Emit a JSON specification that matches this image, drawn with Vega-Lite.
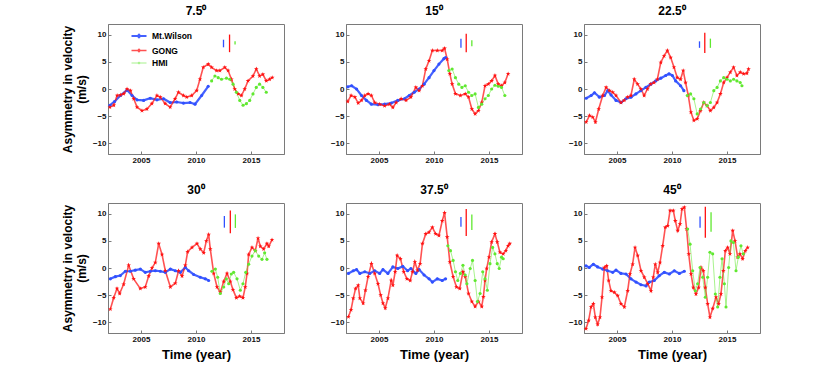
{
"$schema":"https://vega.github.io/schema/vega-lite/v6.json",
"padding":{"left":60,"top":4,"right":5,"bottom":5},
"background":"white",
"config":{
 "font":"Liberation Sans",
 "view":{"stroke":"#7a7a7a","strokeWidth":1},
 "axis":{"grid":false,"labelFont":"Liberation Sans","labelFontWeight":"bold","labelFontSize":8,"labelColor":"#111","tickColor":"#7a7a7a","domainColor":"#7a7a7a","tickSize":-3,"labelPadding":5,"titleFont":"Liberation Sans","titleFontWeight":"bold","titleColor":"#000"},
 "axisY":{"titleFontSize":12,"titleLineHeight":14,"titlePadding":4},
 "axisX":{"titleFontSize":13,"titlePadding":5},
 "title":{"font":"Liberation Sans","fontSize":12,"fontWeight":"bold","color":"#000","offset":6}
},
"datasets":{
"d":[
{"p":1,"s":"Mt.Wilson","t":2002.17,"v":-3.0},{"p":1,"s":"Mt.Wilson","t":2002.6,"v":-2.3},{"p":1,"s":"Mt.Wilson","t":2003.13,"v":-1.2},{"p":1,"s":"Mt.Wilson","t":2003.73,"v":-0.2},{"p":1,"s":"Mt.Wilson","t":2004.19,"v":-1.2},{"p":1,"s":"Mt.Wilson","t":2004.64,"v":-2.0},{"p":1,"s":"Mt.Wilson","t":2005.24,"v":-2.1},{"p":1,"s":"Mt.Wilson","t":2005.84,"v":-1.7},{"p":1,"s":"Mt.Wilson","t":2006.45,"v":-2.0},{"p":1,"s":"Mt.Wilson","t":2007.05,"v":-1.8},{"p":1,"s":"Mt.Wilson","t":2007.65,"v":-2.5},{"p":1,"s":"Mt.Wilson","t":2008.25,"v":-2.4},{"p":1,"s":"Mt.Wilson","t":2008.86,"v":-2.6},{"p":1,"s":"Mt.Wilson","t":2009.46,"v":-2.5},{"p":1,"s":"Mt.Wilson","t":2009.91,"v":-2.8},{"p":1,"s":"Mt.Wilson","t":2010.51,"v":-1.2},{"p":1,"s":"Mt.Wilson","t":2011.11,"v":0.5},
{"p":1,"s":"GONG","t":2002.17,"v":-3.35},{"p":1,"s":"GONG","t":2002.53,"v":-3.0},{"p":1,"s":"GONG","t":2002.83,"v":-1.2},{"p":1,"s":"GONG","t":2003.13,"v":-1.1},{"p":1,"s":"GONG","t":2003.43,"v":-0.9},{"p":1,"s":"GONG","t":2003.73,"v":0},{"p":1,"s":"GONG","t":2004.04,"v":-0.3},{"p":1,"s":"GONG","t":2004.34,"v":-1.8},{"p":1,"s":"GONG","t":2004.64,"v":-3.35},{"p":1,"s":"GONG","t":2005.09,"v":-4.0},{"p":1,"s":"GONG","t":2005.54,"v":-3.7},{"p":1,"s":"GONG","t":2005.99,"v":-2.7},{"p":1,"s":"GONG","t":2006.45,"v":-1.2},{"p":1,"s":"GONG","t":2006.75,"v":-1.5},{"p":1,"s":"GONG","t":2007.2,"v":-2.7},{"p":1,"s":"GONG","t":2007.65,"v":-3.35},{"p":1,"s":"GONG","t":2008.1,"v":-1.8},{"p":1,"s":"GONG","t":2008.4,"v":-0.6},{"p":1,"s":"GONG","t":2008.86,"v":-1.2},{"p":1,"s":"GONG","t":2009.16,"v":-1.5},{"p":1,"s":"GONG","t":2009.61,"v":-1.2},{"p":1,"s":"GONG","t":2010.06,"v":-0.3},{"p":1,"s":"GONG","t":2010.36,"v":1.8},{"p":1,"s":"GONG","t":2010.66,"v":4.0},{"p":1,"s":"GONG","t":2011.11,"v":4.6},{"p":1,"s":"GONG","t":2011.42,"v":4.0},{"p":1,"s":"GONG","t":2011.87,"v":3.4},{"p":1,"s":"GONG","t":2012.17,"v":3.4},{"p":1,"s":"GONG","t":2012.62,"v":4.0},{"p":1,"s":"GONG","t":2012.92,"v":3.4},{"p":1,"s":"GONG","t":2013.22,"v":1.8},{"p":1,"s":"GONG","t":2013.52,"v":0},{"p":1,"s":"GONG","t":2013.83,"v":-0.9},{"p":1,"s":"GONG","t":2014.13,"v":-1.2},{"p":1,"s":"GONG","t":2014.43,"v":0},{"p":1,"s":"GONG","t":2014.73,"v":1.5},{"p":1,"s":"GONG","t":2015.18,"v":2.4},{"p":1,"s":"GONG","t":2015.48,"v":3.7},{"p":1,"s":"GONG","t":2015.78,"v":2.4},{"p":1,"s":"GONG","t":2016.08,"v":2.7},{"p":1,"s":"GONG","t":2016.39,"v":1.5},{"p":1,"s":"GONG","t":2016.69,"v":1.8},{"p":1,"s":"GONG","t":2016.93,"v":2.1},
{"p":1,"s":"HMI","t":2011.42,"v":1.5},{"p":1,"s":"HMI","t":2011.72,"v":2.4},{"p":1,"s":"HMI","t":2012.02,"v":2.1},{"p":1,"s":"HMI","t":2012.32,"v":1.8},{"p":1,"s":"HMI","t":2012.77,"v":2.0},{"p":1,"s":"HMI","t":2013.07,"v":1.8},{"p":1,"s":"HMI","t":2013.37,"v":0.9},{"p":1,"s":"HMI","t":2013.67,"v":-0.6},{"p":1,"s":"HMI","t":2013.98,"v":-2.1},{"p":1,"s":"HMI","t":2014.28,"v":-3.0},{"p":1,"s":"HMI","t":2014.58,"v":-2.7},{"p":1,"s":"HMI","t":2014.88,"v":-2.1},{"p":1,"s":"HMI","t":2015.18,"v":-0.9},{"p":1,"s":"HMI","t":2015.48,"v":0.3},{"p":1,"s":"HMI","t":2015.78,"v":0.9},{"p":1,"s":"HMI","t":2016.08,"v":0.3},{"p":1,"s":"HMI","t":2016.39,"v":-0.6},

{"p":2,"s":"Mt.Wilson","t":2002.16,"v":0.4},{"p":2,"s":"Mt.Wilson","t":2002.51,"v":0.6},{"p":2,"s":"Mt.Wilson","t":2002.96,"v":0},{"p":2,"s":"Mt.Wilson","t":2003.41,"v":-1.2},{"p":2,"s":"Mt.Wilson","t":2003.86,"v":-2.1},{"p":2,"s":"Mt.Wilson","t":2004.31,"v":-2.8},{"p":2,"s":"Mt.Wilson","t":2004.91,"v":-2.9},{"p":2,"s":"Mt.Wilson","t":2005.51,"v":-2.8},{"p":2,"s":"Mt.Wilson","t":2006.11,"v":-2.6},{"p":2,"s":"Mt.Wilson","t":2006.71,"v":-2.1},{"p":2,"s":"Mt.Wilson","t":2007.31,"v":-1.8},{"p":2,"s":"Mt.Wilson","t":2007.75,"v":-1.2},{"p":2,"s":"Mt.Wilson","t":2008.2,"v":-0.6},{"p":2,"s":"Mt.Wilson","t":2008.65,"v":0},{"p":2,"s":"Mt.Wilson","t":2009.1,"v":0.9},{"p":2,"s":"Mt.Wilson","t":2009.55,"v":2.1},{"p":2,"s":"Mt.Wilson","t":2010.0,"v":3.4},{"p":2,"s":"Mt.Wilson","t":2010.45,"v":4.6},{"p":2,"s":"Mt.Wilson","t":2010.9,"v":5.6},{"p":2,"s":"Mt.Wilson","t":2011.05,"v":5.8},
{"p":2,"s":"GONG","t":2002.16,"v":-2.3},{"p":2,"s":"GONG","t":2002.46,"v":-1.2},{"p":2,"s":"GONG","t":2002.81,"v":-1.5},{"p":2,"s":"GONG","t":2003.11,"v":-2.6},{"p":2,"s":"GONG","t":2003.41,"v":-2.1},{"p":2,"s":"GONG","t":2003.71,"v":-1.2},{"p":2,"s":"GONG","t":2004.01,"v":-0.9},{"p":2,"s":"GONG","t":2004.31,"v":-1.2},{"p":2,"s":"GONG","t":2004.61,"v":-2.5},{"p":2,"s":"GONG","t":2005.06,"v":-2.8},{"p":2,"s":"GONG","t":2005.51,"v":-3.1},{"p":2,"s":"GONG","t":2005.96,"v":-2.8},{"p":2,"s":"GONG","t":2006.26,"v":-3.4},{"p":2,"s":"GONG","t":2006.56,"v":-2.5},{"p":2,"s":"GONG","t":2007.01,"v":-1.8},{"p":2,"s":"GONG","t":2007.46,"v":-2.1},{"p":2,"s":"GONG","t":2007.9,"v":-1.5},{"p":2,"s":"GONG","t":2008.35,"v":0.3},{"p":2,"s":"GONG","t":2008.65,"v":-0.3},{"p":2,"s":"GONG","t":2008.95,"v":0.6},{"p":2,"s":"GONG","t":2009.25,"v":3.7},{"p":2,"s":"GONG","t":2009.55,"v":5.2},{"p":2,"s":"GONG","t":2009.85,"v":7.1},{"p":2,"s":"GONG","t":2010.3,"v":7.1},{"p":2,"s":"GONG","t":2010.75,"v":7.1},{"p":2,"s":"GONG","t":2010.96,"v":7.5},{"p":2,"s":"GONG","t":2011.2,"v":5.5},{"p":2,"s":"GONG","t":2011.44,"v":2.8},{"p":2,"s":"GONG","t":2011.65,"v":0.9},{"p":2,"s":"GONG","t":2011.95,"v":-0.9},{"p":2,"s":"GONG","t":2012.4,"v":-1.2},{"p":2,"s":"GONG","t":2012.84,"v":-0.9},{"p":2,"s":"GONG","t":2013.14,"v":-1.5},{"p":2,"s":"GONG","t":2013.44,"v":-3.7},{"p":2,"s":"GONG","t":2013.74,"v":-4.6},{"p":2,"s":"GONG","t":2014.04,"v":-4.0},{"p":2,"s":"GONG","t":2014.34,"v":-2.5},{"p":2,"s":"GONG","t":2014.64,"v":0.6},{"p":2,"s":"GONG","t":2014.94,"v":0.9},{"p":2,"s":"GONG","t":2015.24,"v":1.5},{"p":2,"s":"GONG","t":2015.54,"v":2.5},{"p":2,"s":"GONG","t":2015.84,"v":0.9},{"p":2,"s":"GONG","t":2016.14,"v":0.6},{"p":2,"s":"GONG","t":2016.44,"v":1.2},{"p":2,"s":"GONG","t":2016.74,"v":2.8},
{"p":2,"s":"HMI","t":2011.35,"v":3.4},{"p":2,"s":"HMI","t":2011.65,"v":3.7},{"p":2,"s":"HMI","t":2011.95,"v":2.1},{"p":2,"s":"HMI","t":2012.25,"v":0.9},{"p":2,"s":"HMI","t":2012.54,"v":0.3},{"p":2,"s":"HMI","t":2012.84,"v":0.6},{"p":2,"s":"HMI","t":2013.14,"v":-0.6},{"p":2,"s":"HMI","t":2013.44,"v":-1.2},{"p":2,"s":"HMI","t":2013.74,"v":-0.9},{"p":2,"s":"HMI","t":2014.04,"v":-3.4},{"p":2,"s":"HMI","t":2014.34,"v":-2.8},{"p":2,"s":"HMI","t":2014.64,"v":-1.8},{"p":2,"s":"HMI","t":2014.94,"v":-1.2},{"p":2,"s":"HMI","t":2015.24,"v":0},{"p":2,"s":"HMI","t":2015.54,"v":0.7},{"p":2,"s":"HMI","t":2015.84,"v":0.5},{"p":2,"s":"HMI","t":2016.14,"v":0.3},{"p":2,"s":"HMI","t":2016.44,"v":-1.2},

{"p":3,"s":"Mt.Wilson","t":2002.2,"v":-1.7},{"p":3,"s":"Mt.Wilson","t":2002.65,"v":-1.2},{"p":3,"s":"Mt.Wilson","t":2002.95,"v":-0.7},{"p":3,"s":"Mt.Wilson","t":2003.4,"v":-1.5},{"p":3,"s":"Mt.Wilson","t":2003.86,"v":-1.2},{"p":3,"s":"Mt.Wilson","t":2004.16,"v":-0.3},{"p":3,"s":"Mt.Wilson","t":2004.46,"v":-1.1},{"p":3,"s":"Mt.Wilson","t":2004.91,"v":-2.1},{"p":3,"s":"Mt.Wilson","t":2005.36,"v":-2.5},{"p":3,"s":"Mt.Wilson","t":2005.81,"v":-1.8},{"p":3,"s":"Mt.Wilson","t":2006.27,"v":-1.5},{"p":3,"s":"Mt.Wilson","t":2006.72,"v":-0.9},{"p":3,"s":"Mt.Wilson","t":2007.17,"v":-0.3},{"p":3,"s":"Mt.Wilson","t":2007.62,"v":0.3},{"p":3,"s":"Mt.Wilson","t":2008.07,"v":0.9},{"p":3,"s":"Mt.Wilson","t":2008.52,"v":1.5},{"p":3,"s":"Mt.Wilson","t":2008.98,"v":2.0},{"p":3,"s":"Mt.Wilson","t":2009.43,"v":2.5},{"p":3,"s":"Mt.Wilson","t":2009.73,"v":2.8},{"p":3,"s":"Mt.Wilson","t":2010.03,"v":2.5},{"p":3,"s":"Mt.Wilson","t":2010.33,"v":1.5},{"p":3,"s":"Mt.Wilson","t":2010.78,"v":0.6},{"p":3,"s":"Mt.Wilson","t":2011.08,"v":-0.3},
{"p":3,"s":"GONG","t":2002.2,"v":-6.1},{"p":3,"s":"GONG","t":2002.5,"v":-4.9},{"p":3,"s":"GONG","t":2002.8,"v":-5.2},{"p":3,"s":"GONG","t":2003.04,"v":-6.1},{"p":3,"s":"GONG","t":2003.34,"v":-3.7},{"p":3,"s":"GONG","t":2003.7,"v":-1.2},{"p":3,"s":"GONG","t":2004.01,"v":0.3},{"p":3,"s":"GONG","t":2004.31,"v":-0.3},{"p":3,"s":"GONG","t":2004.61,"v":-0.6},{"p":3,"s":"GONG","t":2004.91,"v":-1.2},{"p":3,"s":"GONG","t":2005.36,"v":-2.5},{"p":3,"s":"GONG","t":2005.66,"v":-2.1},{"p":3,"s":"GONG","t":2005.96,"v":-1.5},{"p":3,"s":"GONG","t":2006.27,"v":-1.2},{"p":3,"s":"GONG","t":2006.57,"v":1.8},{"p":3,"s":"GONG","t":2006.87,"v":0.9},{"p":3,"s":"GONG","t":2007.17,"v":0},{"p":3,"s":"GONG","t":2007.47,"v":-1.2},{"p":3,"s":"GONG","t":2007.77,"v":0},{"p":3,"s":"GONG","t":2008.07,"v":0.9},{"p":3,"s":"GONG","t":2008.37,"v":1.2},{"p":3,"s":"GONG","t":2008.67,"v":1.8},{"p":3,"s":"GONG","t":2008.98,"v":4.9},{"p":3,"s":"GONG","t":2009.28,"v":6.1},{"p":3,"s":"GONG","t":2009.58,"v":7.1},{"p":3,"s":"GONG","t":2009.88,"v":5.8},{"p":3,"s":"GONG","t":2010.18,"v":4.0},{"p":3,"s":"GONG","t":2010.48,"v":2.1},{"p":3,"s":"GONG","t":2010.78,"v":1.8},{"p":3,"s":"GONG","t":2011.02,"v":3.4},{"p":3,"s":"GONG","t":2011.23,"v":1.2},{"p":3,"s":"GONG","t":2011.48,"v":-1.2},{"p":3,"s":"GONG","t":2011.72,"v":-4.3},{"p":3,"s":"GONG","t":2011.99,"v":-5.8},{"p":3,"s":"GONG","t":2012.29,"v":-5.5},{"p":3,"s":"GONG","t":2012.59,"v":-4.0},{"p":3,"s":"GONG","t":2012.89,"v":-2.5},{"p":3,"s":"GONG","t":2013.19,"v":-3.1},{"p":3,"s":"GONG","t":2013.49,"v":-4.0},{"p":3,"s":"GONG","t":2013.8,"v":-3.4},{"p":3,"s":"GONG","t":2014.1,"v":-2.5},{"p":3,"s":"GONG","t":2014.4,"v":-0.9},{"p":3,"s":"GONG","t":2014.7,"v":1.2},{"p":3,"s":"GONG","t":2015.0,"v":2.1},{"p":3,"s":"GONG","t":2015.3,"v":3.1},{"p":3,"s":"GONG","t":2015.6,"v":4.0},{"p":3,"s":"GONG","t":2015.9,"v":2.5},{"p":3,"s":"GONG","t":2016.2,"v":3.1},{"p":3,"s":"GONG","t":2016.51,"v":2.8},{"p":3,"s":"GONG","t":2016.81,"v":2.9},{"p":3,"s":"GONG","t":2016.96,"v":3.7},
{"p":3,"s":"HMI","t":2011.39,"v":-1.2},{"p":3,"s":"HMI","t":2011.69,"v":-0.9},{"p":3,"s":"HMI","t":2011.99,"v":-1.8},{"p":3,"s":"HMI","t":2012.29,"v":-4.6},{"p":3,"s":"HMI","t":2012.59,"v":-3.7},{"p":3,"s":"HMI","t":2012.89,"v":-2.5},{"p":3,"s":"HMI","t":2013.19,"v":-3.1},{"p":3,"s":"HMI","t":2013.49,"v":-2.5},{"p":3,"s":"HMI","t":2013.8,"v":-0.3},{"p":3,"s":"HMI","t":2014.1,"v":0.3},{"p":3,"s":"HMI","t":2014.4,"v":1.5},{"p":3,"s":"HMI","t":2014.7,"v":2.1},{"p":3,"s":"HMI","t":2015.0,"v":1.8},{"p":3,"s":"HMI","t":2015.3,"v":1.5},{"p":3,"s":"HMI","t":2015.6,"v":1.8},{"p":3,"s":"HMI","t":2015.9,"v":1.5},{"p":3,"s":"HMI","t":2016.2,"v":1.2},{"p":3,"s":"HMI","t":2016.36,"v":0.6},

{"p":4,"s":"Mt.Wilson","t":2002.21,"v":-2.0},{"p":4,"s":"Mt.Wilson","t":2002.67,"v":-1.6},{"p":4,"s":"Mt.Wilson","t":2003.12,"v":-1.4},{"p":4,"s":"Mt.Wilson","t":2003.58,"v":-0.6},{"p":4,"s":"Mt.Wilson","t":2004.03,"v":-0.6},{"p":4,"s":"Mt.Wilson","t":2004.48,"v":-0.4},{"p":4,"s":"Mt.Wilson","t":2004.94,"v":-0.2},{"p":4,"s":"Mt.Wilson","t":2005.39,"v":-0.8},{"p":4,"s":"Mt.Wilson","t":2005.85,"v":-0.6},{"p":4,"s":"Mt.Wilson","t":2006.3,"v":-0.5},{"p":4,"s":"Mt.Wilson","t":2006.76,"v":-0.6},{"p":4,"s":"Mt.Wilson","t":2007.21,"v":-0.8},{"p":4,"s":"Mt.Wilson","t":2007.67,"v":-0.2},{"p":4,"s":"Mt.Wilson","t":2008.12,"v":-0.5},{"p":4,"s":"Mt.Wilson","t":2008.58,"v":-0.8},{"p":4,"s":"Mt.Wilson","t":2009.03,"v":0.1},{"p":4,"s":"Mt.Wilson","t":2009.33,"v":-0.5},{"p":4,"s":"Mt.Wilson","t":2009.79,"v":-1.2},{"p":4,"s":"Mt.Wilson","t":2010.39,"v":-1.7},{"p":4,"s":"Mt.Wilson","t":2010.85,"v":-2.0},{"p":4,"s":"Mt.Wilson","t":2011.15,"v":-2.3},
{"p":4,"s":"GONG","t":2002.21,"v":-7.6},{"p":4,"s":"GONG","t":2002.52,"v":-5.5},{"p":4,"s":"GONG","t":2002.82,"v":-3.8},{"p":4,"s":"GONG","t":2003.06,"v":-4.7},{"p":4,"s":"GONG","t":2003.42,"v":-3.0},{"p":4,"s":"GONG","t":2003.88,"v":0.5},{"p":4,"s":"GONG","t":2004.33,"v":-2.0},{"p":4,"s":"GONG","t":2004.94,"v":-3.8},{"p":4,"s":"GONG","t":2005.39,"v":-3.5},{"p":4,"s":"GONG","t":2005.7,"v":-1.5},{"p":4,"s":"GONG","t":2006.0,"v":0},{"p":4,"s":"GONG","t":2006.3,"v":1.0},{"p":4,"s":"GONG","t":2006.61,"v":4.5},{"p":4,"s":"GONG","t":2006.91,"v":2.5},{"p":4,"s":"GONG","t":2007.21,"v":-0.5},{"p":4,"s":"GONG","t":2007.67,"v":-3.5},{"p":4,"s":"GONG","t":2008.12,"v":-2.8},{"p":4,"s":"GONG","t":2008.42,"v":-0.5},{"p":4,"s":"GONG","t":2008.73,"v":-1.5},{"p":4,"s":"GONG","t":2009.03,"v":0.5},{"p":4,"s":"GONG","t":2009.24,"v":3.0},{"p":4,"s":"GONG","t":2009.64,"v":3.8},{"p":4,"s":"GONG","t":2010.09,"v":4.5},{"p":4,"s":"GONG","t":2010.39,"v":3.5},{"p":4,"s":"GONG","t":2010.7,"v":2.8},{"p":4,"s":"GONG","t":2010.94,"v":5.0},{"p":4,"s":"GONG","t":2011.15,"v":6.2},{"p":4,"s":"GONG","t":2011.3,"v":3.5},{"p":4,"s":"GONG","t":2011.61,"v":-1.0},{"p":4,"s":"GONG","t":2011.91,"v":-3.5},{"p":4,"s":"GONG","t":2012.21,"v":-4.5},{"p":4,"s":"GONG","t":2012.52,"v":-2.5},{"p":4,"s":"GONG","t":2012.82,"v":-1.0},{"p":4,"s":"GONG","t":2013.12,"v":-2.5},{"p":4,"s":"GONG","t":2013.36,"v":-4.0},{"p":4,"s":"GONG","t":2013.67,"v":-5.5},{"p":4,"s":"GONG","t":2013.97,"v":-5.2},{"p":4,"s":"GONG","t":2014.27,"v":-5.5},{"p":4,"s":"GONG","t":2014.48,"v":-3.5},{"p":4,"s":"GONG","t":2014.64,"v":-1.0},{"p":4,"s":"GONG","t":2014.79,"v":2.5},{"p":4,"s":"GONG","t":2015.09,"v":3.8},{"p":4,"s":"GONG","t":2015.39,"v":3.2},{"p":4,"s":"GONG","t":2015.64,"v":5.5},{"p":4,"s":"GONG","t":2015.85,"v":4.0},{"p":4,"s":"GONG","t":2016.15,"v":3.5},{"p":4,"s":"GONG","t":2016.45,"v":4.5},{"p":4,"s":"GONG","t":2016.61,"v":4.0},{"p":4,"s":"GONG","t":2016.91,"v":5.2},
{"p":4,"s":"HMI","t":2011.45,"v":-0.6},{"p":4,"s":"HMI","t":2011.76,"v":-0.2},{"p":4,"s":"HMI","t":2011.97,"v":-1.7},{"p":4,"s":"HMI","t":2012.21,"v":-4.7},{"p":4,"s":"HMI","t":2012.52,"v":-3.5},{"p":4,"s":"HMI","t":2012.76,"v":-2.0},{"p":4,"s":"HMI","t":2012.97,"v":-2.9},{"p":4,"s":"HMI","t":2013.21,"v":-1.1},{"p":4,"s":"HMI","t":2013.42,"v":-0.8},{"p":4,"s":"HMI","t":2013.73,"v":-2.0},{"p":4,"s":"HMI","t":2014.03,"v":-4.1},{"p":4,"s":"HMI","t":2014.27,"v":-2.9},{"p":4,"s":"HMI","t":2014.52,"v":-0.8},{"p":4,"s":"HMI","t":2014.79,"v":0.7},{"p":4,"s":"HMI","t":2015.09,"v":2.2},{"p":4,"s":"HMI","t":2015.39,"v":3.2},{"p":4,"s":"HMI","t":2015.7,"v":2.2},{"p":4,"s":"HMI","t":2016.0,"v":1.6},{"p":4,"s":"HMI","t":2016.24,"v":2.8},{"p":4,"s":"HMI","t":2016.45,"v":1.6},

{"p":5,"s":"Mt.Wilson","t":2002.22,"v":-1.0},{"p":5,"s":"Mt.Wilson","t":2002.66,"v":-0.5},{"p":5,"s":"Mt.Wilson","t":2002.96,"v":-0.3},{"p":5,"s":"Mt.Wilson","t":2003.26,"v":-1.0},{"p":5,"s":"Mt.Wilson","t":2003.71,"v":-0.7},{"p":5,"s":"Mt.Wilson","t":2004.16,"v":-1.0},{"p":5,"s":"Mt.Wilson","t":2004.61,"v":-0.5},{"p":5,"s":"Mt.Wilson","t":2005.06,"v":-1.0},{"p":5,"s":"Mt.Wilson","t":2005.36,"v":-0.3},{"p":5,"s":"Mt.Wilson","t":2005.81,"v":-1.0},{"p":5,"s":"Mt.Wilson","t":2006.26,"v":0.2},{"p":5,"s":"Mt.Wilson","t":2006.71,"v":-0.1},{"p":5,"s":"Mt.Wilson","t":2007.16,"v":0.3},{"p":5,"s":"Mt.Wilson","t":2007.6,"v":-0.5},{"p":5,"s":"Mt.Wilson","t":2007.9,"v":-0.1},{"p":5,"s":"Mt.Wilson","t":2008.35,"v":-1.0},{"p":5,"s":"Mt.Wilson","t":2008.65,"v":-0.3},{"p":5,"s":"Mt.Wilson","t":2009.1,"v":-1.3},{"p":5,"s":"Mt.Wilson","t":2009.55,"v":-2.0},{"p":5,"s":"Mt.Wilson","t":2009.85,"v":-2.6},{"p":5,"s":"Mt.Wilson","t":2010.3,"v":-2.0},{"p":5,"s":"Mt.Wilson","t":2010.75,"v":-2.3},{"p":5,"s":"Mt.Wilson","t":2011.05,"v":-2.0},
{"p":5,"s":"GONG","t":2002.22,"v":-9.0},{"p":5,"s":"GONG","t":2002.46,"v":-7.7},{"p":5,"s":"GONG","t":2002.66,"v":-5.6},{"p":5,"s":"GONG","t":2002.87,"v":-3.8},{"p":5,"s":"GONG","t":2003.11,"v":-3.2},{"p":5,"s":"GONG","t":2003.26,"v":-5.6},{"p":5,"s":"GONG","t":2003.56,"v":-6.5},{"p":5,"s":"GONG","t":2003.77,"v":-4.1},{"p":5,"s":"GONG","t":2004.01,"v":-1.6},{"p":5,"s":"GONG","t":2004.31,"v":0.8},{"p":5,"s":"GONG","t":2004.61,"v":-1.0},{"p":5,"s":"GONG","t":2004.91,"v":-2.9},{"p":5,"s":"GONG","t":2005.15,"v":-5.0},{"p":5,"s":"GONG","t":2005.36,"v":-6.5},{"p":5,"s":"GONG","t":2005.57,"v":-7.4},{"p":5,"s":"GONG","t":2005.81,"v":-5.6},{"p":5,"s":"GONG","t":2006.11,"v":-2.3},{"p":5,"s":"GONG","t":2006.26,"v":-3.2},{"p":5,"s":"GONG","t":2006.47,"v":-0.7},{"p":5,"s":"GONG","t":2006.65,"v":2.3},{"p":5,"s":"GONG","t":2006.95,"v":1.7},{"p":5,"s":"GONG","t":2007.25,"v":-0.7},{"p":5,"s":"GONG","t":2007.54,"v":-2.0},{"p":5,"s":"GONG","t":2007.84,"v":-2.3},{"p":5,"s":"GONG","t":2008.05,"v":-0.7},{"p":5,"s":"GONG","t":2008.26,"v":1.1},{"p":5,"s":"GONG","t":2008.5,"v":-0.4},{"p":5,"s":"GONG","t":2008.74,"v":0.8},{"p":5,"s":"GONG","t":2008.95,"v":4.5},{"p":5,"s":"GONG","t":2009.25,"v":6.3},{"p":5,"s":"GONG","t":2009.55,"v":6.6},{"p":5,"s":"GONG","t":2009.85,"v":7.5},{"p":5,"s":"GONG","t":2010.15,"v":6.3},{"p":5,"s":"GONG","t":2010.45,"v":6.0},{"p":5,"s":"GONG","t":2010.75,"v":8.7},{"p":5,"s":"GONG","t":2010.96,"v":10.2},{"p":5,"s":"GONG","t":2011.2,"v":5.7},{"p":5,"s":"GONG","t":2011.44,"v":1.1},{"p":5,"s":"GONG","t":2011.74,"v":-1.6},{"p":5,"s":"GONG","t":2012.04,"v":-3.5},{"p":5,"s":"GONG","t":2012.34,"v":-3.8},{"p":5,"s":"GONG","t":2012.63,"v":-0.7},{"p":5,"s":"GONG","t":2012.84,"v":-1.6},{"p":5,"s":"GONG","t":2013.14,"v":-4.7},{"p":5,"s":"GONG","t":2013.44,"v":-6.2},{"p":5,"s":"GONG","t":2013.74,"v":-7.1},{"p":5,"s":"GONG","t":2014.04,"v":-6.2},{"p":5,"s":"GONG","t":2014.34,"v":-7.1},{"p":5,"s":"GONG","t":2014.49,"v":-5.3},{"p":5,"s":"GONG","t":2014.64,"v":-2.3},{"p":5,"s":"GONG","t":2014.79,"v":-0.1},{"p":5,"s":"GONG","t":2015.0,"v":2.0},{"p":5,"s":"GONG","t":2015.24,"v":4.8},{"p":5,"s":"GONG","t":2015.54,"v":6.3},{"p":5,"s":"GONG","t":2015.75,"v":4.8},{"p":5,"s":"GONG","t":2015.99,"v":2.9},{"p":5,"s":"GONG","t":2016.29,"v":2.6},{"p":5,"s":"GONG","t":2016.53,"v":3.2},{"p":5,"s":"GONG","t":2016.74,"v":4.1},{"p":5,"s":"GONG","t":2016.89,"v":4.5},
{"p":5,"s":"HMI","t":2011.26,"v":4.1},{"p":5,"s":"HMI","t":2011.5,"v":3.2},{"p":5,"s":"HMI","t":2011.74,"v":1.4},{"p":5,"s":"HMI","t":2011.95,"v":-0.7},{"p":5,"s":"HMI","t":2012.16,"v":-2.3},{"p":5,"s":"HMI","t":2012.4,"v":-1.0},{"p":5,"s":"HMI","t":2012.63,"v":0.5},{"p":5,"s":"HMI","t":2012.84,"v":-1.3},{"p":5,"s":"HMI","t":2012.99,"v":-2.9},{"p":5,"s":"HMI","t":2013.29,"v":-0.1},{"p":5,"s":"HMI","t":2013.5,"v":1.4},{"p":5,"s":"HMI","t":2013.74,"v":-2.3},{"p":5,"s":"HMI","t":2013.95,"v":-6.2},{"p":5,"s":"HMI","t":2014.19,"v":-4.7},{"p":5,"s":"HMI","t":2014.43,"v":-0.7},{"p":5,"s":"HMI","t":2014.64,"v":-2.0},{"p":5,"s":"HMI","t":2014.85,"v":-4.1},{"p":5,"s":"HMI","t":2015.09,"v":0.8},{"p":5,"s":"HMI","t":2015.33,"v":3.8},{"p":5,"s":"HMI","t":2015.54,"v":2.6},{"p":5,"s":"HMI","t":2015.75,"v":0.8},{"p":5,"s":"HMI","t":2015.93,"v":-0.1},{"p":5,"s":"HMI","t":2016.14,"v":2.0},{"p":5,"s":"HMI","t":2016.29,"v":1.7},

{"p":6,"s":"Mt.Wilson","t":2002.18,"v":0.4},{"p":6,"s":"Mt.Wilson","t":2002.48,"v":0.1},{"p":6,"s":"Mt.Wilson","t":2002.85,"v":0.7},{"p":6,"s":"Mt.Wilson","t":2003.24,"v":0.2},{"p":6,"s":"Mt.Wilson","t":2003.7,"v":-0.2},{"p":6,"s":"Mt.Wilson","t":2004.15,"v":-0.5},{"p":6,"s":"Mt.Wilson","t":2004.61,"v":-0.8},{"p":6,"s":"Mt.Wilson","t":2004.91,"v":-0.4},{"p":6,"s":"Mt.Wilson","t":2005.36,"v":-1.0},{"p":6,"s":"Mt.Wilson","t":2005.82,"v":-1.1},{"p":6,"s":"Mt.Wilson","t":2006.27,"v":-2.0},{"p":6,"s":"Mt.Wilson","t":2006.73,"v":-2.6},{"p":6,"s":"Mt.Wilson","t":2007.18,"v":-3.1},{"p":6,"s":"Mt.Wilson","t":2007.64,"v":-3.3},{"p":6,"s":"Mt.Wilson","t":2007.94,"v":-2.6},{"p":6,"s":"Mt.Wilson","t":2008.39,"v":-2.3},{"p":6,"s":"Mt.Wilson","t":2008.85,"v":-1.4},{"p":6,"s":"Mt.Wilson","t":2009.3,"v":-0.8},{"p":6,"s":"Mt.Wilson","t":2009.76,"v":-1.1},{"p":6,"s":"Mt.Wilson","t":2010.21,"v":-0.5},{"p":6,"s":"Mt.Wilson","t":2010.67,"v":-1.0},{"p":6,"s":"Mt.Wilson","t":2011.12,"v":-0.6},
{"p":6,"s":"GONG","t":2002.18,"v":-11.2},{"p":6,"s":"GONG","t":2002.42,"v":-9.7},{"p":6,"s":"GONG","t":2002.64,"v":-7.2},{"p":6,"s":"GONG","t":2002.85,"v":-6.6},{"p":6,"s":"GONG","t":2003.03,"v":-9.1},{"p":6,"s":"GONG","t":2003.24,"v":-10.4},{"p":6,"s":"GONG","t":2003.45,"v":-9.1},{"p":6,"s":"GONG","t":2003.64,"v":-5.4},{"p":6,"s":"GONG","t":2003.85,"v":0.1},{"p":6,"s":"GONG","t":2004.06,"v":0.4},{"p":6,"s":"GONG","t":2004.24,"v":-2.3},{"p":6,"s":"GONG","t":2004.45,"v":-4.2},{"p":6,"s":"GONG","t":2004.76,"v":-4.5},{"p":6,"s":"GONG","t":2005.06,"v":-5.1},{"p":6,"s":"GONG","t":2005.36,"v":-6.6},{"p":6,"s":"GONG","t":2005.67,"v":-7.2},{"p":6,"s":"GONG","t":2005.97,"v":-4.2},{"p":6,"s":"GONG","t":2006.18,"v":-1.1},{"p":6,"s":"GONG","t":2006.42,"v":0.7},{"p":6,"s":"GONG","t":2006.64,"v":3.8},{"p":6,"s":"GONG","t":2006.88,"v":2.3},{"p":6,"s":"GONG","t":2007.18,"v":-0.5},{"p":6,"s":"GONG","t":2007.48,"v":-1.7},{"p":6,"s":"GONG","t":2007.79,"v":-2.9},{"p":6,"s":"GONG","t":2008.09,"v":-4.2},{"p":6,"s":"GONG","t":2008.3,"v":-1.7},{"p":6,"s":"GONG","t":2008.48,"v":0.7},{"p":6,"s":"GONG","t":2008.7,"v":-0.8},{"p":6,"s":"GONG","t":2008.91,"v":1.0},{"p":6,"s":"GONG","t":2009.15,"v":4.1},{"p":6,"s":"GONG","t":2009.39,"v":7.5},{"p":6,"s":"GONG","t":2009.61,"v":7.8},{"p":6,"s":"GONG","t":2009.82,"v":10.6},{"p":6,"s":"GONG","t":2010.12,"v":10.6},{"p":6,"s":"GONG","t":2010.3,"v":8.7},{"p":6,"s":"GONG","t":2010.52,"v":6.9},{"p":6,"s":"GONG","t":2010.73,"v":8.1},{"p":6,"s":"GONG","t":2010.91,"v":10.9},{"p":6,"s":"GONG","t":2011.12,"v":11.2},{"p":6,"s":"GONG","t":2011.33,"v":7.2},{"p":6,"s":"GONG","t":2011.52,"v":2.6},{"p":6,"s":"GONG","t":2011.73,"v":-1.1},{"p":6,"s":"GONG","t":2011.94,"v":-3.6},{"p":6,"s":"GONG","t":2012.18,"v":-4.8},{"p":6,"s":"GONG","t":2012.42,"v":-3.6},{"p":6,"s":"GONG","t":2012.64,"v":0.1},{"p":6,"s":"GONG","t":2012.85,"v":-0.5},{"p":6,"s":"GONG","t":2013.03,"v":-3.6},{"p":6,"s":"GONG","t":2013.24,"v":-6.6},{"p":6,"s":"GONG","t":2013.45,"v":-9.1},{"p":6,"s":"GONG","t":2013.7,"v":-7.5},{"p":6,"s":"GONG","t":2014.0,"v":-5.4},{"p":6,"s":"GONG","t":2014.24,"v":-6.6},{"p":6,"s":"GONG","t":2014.45,"v":-4.8},{"p":6,"s":"GONG","t":2014.67,"v":-0.5},{"p":6,"s":"GONG","t":2014.85,"v":3.2},{"p":6,"s":"GONG","t":2015.06,"v":3.8},{"p":6,"s":"GONG","t":2015.27,"v":2.6},{"p":6,"s":"GONG","t":2015.52,"v":6.9},{"p":6,"s":"GONG","t":2015.73,"v":5.0},{"p":6,"s":"GONG","t":2015.97,"v":2.0},{"p":6,"s":"GONG","t":2016.18,"v":2.6},{"p":6,"s":"GONG","t":2016.42,"v":1.7},{"p":6,"s":"GONG","t":2016.67,"v":3.2},{"p":6,"s":"GONG","t":2016.88,"v":3.8},
{"p":6,"s":"HMI","t":2011.42,"v":7.2},{"p":6,"s":"HMI","t":2011.64,"v":4.4},{"p":6,"s":"HMI","t":2011.88,"v":-0.5},{"p":6,"s":"HMI","t":2012.12,"v":-4.2},{"p":6,"s":"HMI","t":2012.33,"v":-2.9},{"p":6,"s":"HMI","t":2012.55,"v":0.1},{"p":6,"s":"HMI","t":2012.79,"v":-1.7},{"p":6,"s":"HMI","t":2013.03,"v":-5.4},{"p":6,"s":"HMI","t":2013.24,"v":-1.7},{"p":6,"s":"HMI","t":2013.45,"v":2.9},{"p":6,"s":"HMI","t":2013.7,"v":2.6},{"p":6,"s":"HMI","t":2013.94,"v":-4.8},{"p":6,"s":"HMI","t":2014.15,"v":-7.2},{"p":6,"s":"HMI","t":2014.36,"v":-1.7},{"p":6,"s":"HMI","t":2014.55,"v":1.7},{"p":6,"s":"HMI","t":2014.76,"v":-2.9},{"p":6,"s":"HMI","t":2014.91,"v":-7.2},{"p":6,"s":"HMI","t":2015.15,"v":0.1},{"p":6,"s":"HMI","t":2015.36,"v":5.0},{"p":6,"s":"HMI","t":2015.58,"v":4.7},{"p":6,"s":"HMI","t":2015.82,"v":-0.5},{"p":6,"s":"HMI","t":2016.03,"v":2.0},{"p":6,"s":"HMI","t":2016.27,"v":4.1},{"p":6,"s":"HMI","t":2016.48,"v":2.6}
],
"e":[
{"p":1,"s":"Mt.Wilson","t":2012.5,"v":7.7,"v2":9.1},{"p":1,"s":"GONG","t":2013.05,"v":6.8,"v2":10.05},{"p":1,"s":"HMI","t":2013.55,"v":8.2,"v2":8.8},
{"p":2,"s":"Mt.Wilson","t":2012.45,"v":7.6,"v2":9.3},{"p":2,"s":"GONG","t":2012.93,"v":6.8,"v2":10.2},{"p":2,"s":"HMI","t":2013.44,"v":7.9,"v2":9.0},
{"p":3,"s":"Mt.Wilson","t":2012.5,"v":7.6,"v2":8.8},{"p":3,"s":"GONG","t":2012.98,"v":6.65,"v2":10.4},{"p":3,"s":"HMI","t":2013.49,"v":7.6,"v2":9.3},
{"p":4,"s":"Mt.Wilson","t":2012.58,"v":7.45,"v2":9.6},{"p":4,"s":"GONG","t":2013.12,"v":6.4,"v2":10.6},{"p":4,"s":"HMI","t":2013.58,"v":7.4,"v2":9.9},
{"p":5,"s":"Mt.Wilson","t":2012.45,"v":7.6,"v2":9.4},{"p":5,"s":"GONG","t":2012.93,"v":5.9,"v2":10.9},{"p":5,"s":"HMI","t":2013.44,"v":7.0,"v2":9.9},
{"p":6,"s":"Mt.Wilson","t":2012.55,"v":7.45,"v2":9.5},{"p":6,"s":"GONG","t":2013.03,"v":5.6,"v2":11.3},{"p":6,"s":"HMI","t":2013.55,"v":6.7,"v2":10.3}
]
},
"spacing":18,
"resolve":{"scale":{"color":"independent","strokeWidth":"independent","opacity":"independent"}},
"vconcat":[
{"hconcat":[
{"title":"7.5⁰","width":176,"height":130,
 "encoding":{"x":{"field":"t","type":"quantitative","scale":{"domain":[2002,2018],"nice":false,"zero":false},"axis":{"values":[2005,2010,2015],"format":"d","title":null}},
   "y":{"field":"v","type":"quantitative","scale":{"domain":[-12,12],"nice":false},"axis":{"values":[-10,-5,0,5,10],"title":["Asymmetry in velocity","(m/s)"]}}},
 "layer":[
 {"data":{"name":"d"},"transform":[{"filter":"datum.p==1"}],"mark":{"type":"line"},
  "encoding":{"color":{"field":"s","type":"nominal","scale":{"domain":["Mt.Wilson","GONG","HMI"],"range":["#3050ff","#ff1010","#60e830"]},
    "legend":{"orient":"none","legendX":22,"legendY":3,"title":null,"labelFont":"Liberation Sans","labelFontSize":8.5,"labelFontWeight":"bold","labelColor":"#000","symbolType":"M-1,0H1M0,-0.15L0.15,0L0,0.15L-0.15,0Z","symbolSize":225,"symbolStrokeWidth":1,"rowPadding":-5,"labelOffset":4,
     "encode":{"symbols":{"update":{"stroke":{"signal":"datum.value=='GONG'?'#ff1010':datum.value=='HMI'?'#60e830':'#3050ff'"},"fill":{"signal":"datum.value=='GONG'?'#ff1010':datum.value=='HMI'?'#60e830':'#3050ff'"},"opacity":{"value":1},"strokeWidth":{"value":1}}}}}},
   "strokeWidth":{"field":"s","type":"nominal","scale":{"domain":["Mt.Wilson","GONG","HMI"],"range":[2.2,1,1]},"legend":null},
   "opacity":{"field":"s","type":"nominal","scale":{"domain":["Mt.Wilson","GONG","HMI"],"range":[0.9,0.55,0.6]},"legend":null}}},
 {"data":{"name":"d"},"transform":[{"filter":"datum.p==1 && datum.s=='Mt.Wilson'"}],"mark":{"type":"point","filled":true,"size":10,"color":"#3050ff","opacity":1}},
 {"data":{"name":"d"},"transform":[{"filter":"datum.p==1 && datum.s=='GONG'"}],"mark":{"type":"point","filled":true,"size":24,"color":"#ff1010","opacity":1,"shape":"M0,-1L0.224,-0.309L0.951,-0.309L0.363,0.118L0.588,0.809L0,0.382L-0.588,0.809L-0.363,0.118L-0.951,-0.309L-0.224,-0.309Z"}},
 {"data":{"name":"d"},"transform":[{"filter":"datum.p==1 && datum.s=='HMI'"}],"mark":{"type":"point","filled":true,"size":10,"color":"#60e830","opacity":1}},
 {"data":{"name":"e"},"transform":[{"filter":"datum.p==1"}],"mark":{"type":"rule","strokeWidth":1.3},"encoding":{"y2":{"field":"v2"},"color":{"field":"s","type":"nominal","legend":null}}}
]},
{"title":"15⁰","width":176,"height":130,
 "encoding":{"x":{"field":"t","type":"quantitative","scale":{"domain":[2002,2018],"nice":false,"zero":false},"axis":{"values":[2005,2010,2015],"format":"d","title":null}},
   "y":{"field":"v","type":"quantitative","scale":{"domain":[-12,12],"nice":false},"axis":{"values":[-10,-5,0,5,10],"title":null}}},
 "layer":[
 {"data":{"name":"d"},"transform":[{"filter":"datum.p==2"}],"mark":{"type":"line"},
  "encoding":{"color":{"field":"s","type":"nominal","scale":{"domain":["Mt.Wilson","GONG","HMI"],"range":["#3050ff","#ff1010","#60e830"]},"legend":null},
   "strokeWidth":{"field":"s","type":"nominal","scale":{"domain":["Mt.Wilson","GONG","HMI"],"range":[2.2,1,1]},"legend":null},
   "opacity":{"field":"s","type":"nominal","scale":{"domain":["Mt.Wilson","GONG","HMI"],"range":[0.9,0.55,0.6]},"legend":null}}},
 {"data":{"name":"d"},"transform":[{"filter":"datum.p==2 && datum.s=='Mt.Wilson'"}],"mark":{"type":"point","filled":true,"size":10,"color":"#3050ff","opacity":1}},
 {"data":{"name":"d"},"transform":[{"filter":"datum.p==2 && datum.s=='GONG'"}],"mark":{"type":"point","filled":true,"size":24,"color":"#ff1010","opacity":1,"shape":"M0,-1L0.224,-0.309L0.951,-0.309L0.363,0.118L0.588,0.809L0,0.382L-0.588,0.809L-0.363,0.118L-0.951,-0.309L-0.224,-0.309Z"}},
 {"data":{"name":"d"},"transform":[{"filter":"datum.p==2 && datum.s=='HMI'"}],"mark":{"type":"point","filled":true,"size":10,"color":"#60e830","opacity":1}},
 {"data":{"name":"e"},"transform":[{"filter":"datum.p==2"}],"mark":{"type":"rule","strokeWidth":1.3},"encoding":{"y2":{"field":"v2"},"color":{"field":"s","type":"nominal","legend":null}}}
]},
{"title":"22.5⁰","width":176,"height":130,
 "encoding":{"x":{"field":"t","type":"quantitative","scale":{"domain":[2002,2018],"nice":false,"zero":false},"axis":{"values":[2005,2010,2015],"format":"d","title":null}},
   "y":{"field":"v","type":"quantitative","scale":{"domain":[-12,12],"nice":false},"axis":{"values":[-10,-5,0,5,10],"title":null}}},
 "layer":[
 {"data":{"name":"d"},"transform":[{"filter":"datum.p==3"}],"mark":{"type":"line"},
  "encoding":{"color":{"field":"s","type":"nominal","scale":{"domain":["Mt.Wilson","GONG","HMI"],"range":["#3050ff","#ff1010","#60e830"]},"legend":null},
   "strokeWidth":{"field":"s","type":"nominal","scale":{"domain":["Mt.Wilson","GONG","HMI"],"range":[2.2,1,1]},"legend":null},
   "opacity":{"field":"s","type":"nominal","scale":{"domain":["Mt.Wilson","GONG","HMI"],"range":[0.9,0.55,0.6]},"legend":null}}},
 {"data":{"name":"d"},"transform":[{"filter":"datum.p==3 && datum.s=='Mt.Wilson'"}],"mark":{"type":"point","filled":true,"size":10,"color":"#3050ff","opacity":1}},
 {"data":{"name":"d"},"transform":[{"filter":"datum.p==3 && datum.s=='GONG'"}],"mark":{"type":"point","filled":true,"size":24,"color":"#ff1010","opacity":1,"shape":"M0,-1L0.224,-0.309L0.951,-0.309L0.363,0.118L0.588,0.809L0,0.382L-0.588,0.809L-0.363,0.118L-0.951,-0.309L-0.224,-0.309Z"}},
 {"data":{"name":"d"},"transform":[{"filter":"datum.p==3 && datum.s=='HMI'"}],"mark":{"type":"point","filled":true,"size":10,"color":"#60e830","opacity":1}},
 {"data":{"name":"e"},"transform":[{"filter":"datum.p==3"}],"mark":{"type":"rule","strokeWidth":1.3},"encoding":{"y2":{"field":"v2"},"color":{"field":"s","type":"nominal","legend":null}}}
]}
],"spacing":44,"resolve":{"scale":{"color":"independent","strokeWidth":"independent","opacity":"independent"}}},
{"hconcat":[
{"title":"30⁰","width":176,"height":130,
 "encoding":{"x":{"field":"t","type":"quantitative","scale":{"domain":[2002,2018],"nice":false,"zero":false},"axis":{"values":[2005,2010,2015],"format":"d","title":"Time (year)"}},
   "y":{"field":"v","type":"quantitative","scale":{"domain":[-12,12],"nice":false},"axis":{"values":[-10,-5,0,5,10],"title":["Asymmetry in velocity","(m/s)"]}}},
 "layer":[
 {"data":{"name":"d"},"transform":[{"filter":"datum.p==4"}],"mark":{"type":"line"},
  "encoding":{"color":{"field":"s","type":"nominal","scale":{"domain":["Mt.Wilson","GONG","HMI"],"range":["#3050ff","#ff1010","#60e830"]},"legend":null},
   "strokeWidth":{"field":"s","type":"nominal","scale":{"domain":["Mt.Wilson","GONG","HMI"],"range":[2.2,1,1]},"legend":null},
   "opacity":{"field":"s","type":"nominal","scale":{"domain":["Mt.Wilson","GONG","HMI"],"range":[0.9,0.55,0.6]},"legend":null}}},
 {"data":{"name":"d"},"transform":[{"filter":"datum.p==4 && datum.s=='Mt.Wilson'"}],"mark":{"type":"point","filled":true,"size":10,"color":"#3050ff","opacity":1}},
 {"data":{"name":"d"},"transform":[{"filter":"datum.p==4 && datum.s=='GONG'"}],"mark":{"type":"point","filled":true,"size":24,"color":"#ff1010","opacity":1,"shape":"M0,-1L0.224,-0.309L0.951,-0.309L0.363,0.118L0.588,0.809L0,0.382L-0.588,0.809L-0.363,0.118L-0.951,-0.309L-0.224,-0.309Z"}},
 {"data":{"name":"d"},"transform":[{"filter":"datum.p==4 && datum.s=='HMI'"}],"mark":{"type":"point","filled":true,"size":10,"color":"#60e830","opacity":1}},
 {"data":{"name":"e"},"transform":[{"filter":"datum.p==4"}],"mark":{"type":"rule","strokeWidth":1.3},"encoding":{"y2":{"field":"v2"},"color":{"field":"s","type":"nominal","legend":null}}}
]},
{"title":"37.5⁰","width":176,"height":130,
 "encoding":{"x":{"field":"t","type":"quantitative","scale":{"domain":[2002,2018],"nice":false,"zero":false},"axis":{"values":[2005,2010,2015],"format":"d","title":"Time (year)"}},
   "y":{"field":"v","type":"quantitative","scale":{"domain":[-12,12],"nice":false},"axis":{"values":[-10,-5,0,5,10],"title":null}}},
 "layer":[
 {"data":{"name":"d"},"transform":[{"filter":"datum.p==5"}],"mark":{"type":"line"},
  "encoding":{"color":{"field":"s","type":"nominal","scale":{"domain":["Mt.Wilson","GONG","HMI"],"range":["#3050ff","#ff1010","#60e830"]},"legend":null},
   "strokeWidth":{"field":"s","type":"nominal","scale":{"domain":["Mt.Wilson","GONG","HMI"],"range":[2.2,1,1]},"legend":null},
   "opacity":{"field":"s","type":"nominal","scale":{"domain":["Mt.Wilson","GONG","HMI"],"range":[0.9,0.55,0.6]},"legend":null}}},
 {"data":{"name":"d"},"transform":[{"filter":"datum.p==5 && datum.s=='Mt.Wilson'"}],"mark":{"type":"point","filled":true,"size":10,"color":"#3050ff","opacity":1}},
 {"data":{"name":"d"},"transform":[{"filter":"datum.p==5 && datum.s=='GONG'"}],"mark":{"type":"point","filled":true,"size":24,"color":"#ff1010","opacity":1,"shape":"M0,-1L0.224,-0.309L0.951,-0.309L0.363,0.118L0.588,0.809L0,0.382L-0.588,0.809L-0.363,0.118L-0.951,-0.309L-0.224,-0.309Z"}},
 {"data":{"name":"d"},"transform":[{"filter":"datum.p==5 && datum.s=='HMI'"}],"mark":{"type":"point","filled":true,"size":10,"color":"#60e830","opacity":1}},
 {"data":{"name":"e"},"transform":[{"filter":"datum.p==5"}],"mark":{"type":"rule","strokeWidth":1.3},"encoding":{"y2":{"field":"v2"},"color":{"field":"s","type":"nominal","legend":null}}}
]},
{"title":"45⁰","width":176,"height":130,
 "encoding":{"x":{"field":"t","type":"quantitative","scale":{"domain":[2002,2018],"nice":false,"zero":false},"axis":{"values":[2005,2010,2015],"format":"d","title":"Time (year)"}},
   "y":{"field":"v","type":"quantitative","scale":{"domain":[-12,12],"nice":false},"axis":{"values":[-10,-5,0,5,10],"title":null}}},
 "layer":[
 {"data":{"name":"d"},"transform":[{"filter":"datum.p==6"}],"mark":{"type":"line"},
  "encoding":{"color":{"field":"s","type":"nominal","scale":{"domain":["Mt.Wilson","GONG","HMI"],"range":["#3050ff","#ff1010","#60e830"]},"legend":null},
   "strokeWidth":{"field":"s","type":"nominal","scale":{"domain":["Mt.Wilson","GONG","HMI"],"range":[2.2,1,1]},"legend":null},
   "opacity":{"field":"s","type":"nominal","scale":{"domain":["Mt.Wilson","GONG","HMI"],"range":[0.9,0.55,0.6]},"legend":null}}},
 {"data":{"name":"d"},"transform":[{"filter":"datum.p==6 && datum.s=='Mt.Wilson'"}],"mark":{"type":"point","filled":true,"size":10,"color":"#3050ff","opacity":1}},
 {"data":{"name":"d"},"transform":[{"filter":"datum.p==6 && datum.s=='GONG'"}],"mark":{"type":"point","filled":true,"size":24,"color":"#ff1010","opacity":1,"shape":"M0,-1L0.224,-0.309L0.951,-0.309L0.363,0.118L0.588,0.809L0,0.382L-0.588,0.809L-0.363,0.118L-0.951,-0.309L-0.224,-0.309Z"}},
 {"data":{"name":"d"},"transform":[{"filter":"datum.p==6 && datum.s=='HMI'"}],"mark":{"type":"point","filled":true,"size":10,"color":"#60e830","opacity":1}},
 {"data":{"name":"e"},"transform":[{"filter":"datum.p==6"}],"mark":{"type":"rule","strokeWidth":1.3},"encoding":{"y2":{"field":"v2"},"color":{"field":"s","type":"nominal","legend":null}}}
]}
],"spacing":44,"resolve":{"scale":{"color":"independent","strokeWidth":"independent","opacity":"independent"}}}
]
}
